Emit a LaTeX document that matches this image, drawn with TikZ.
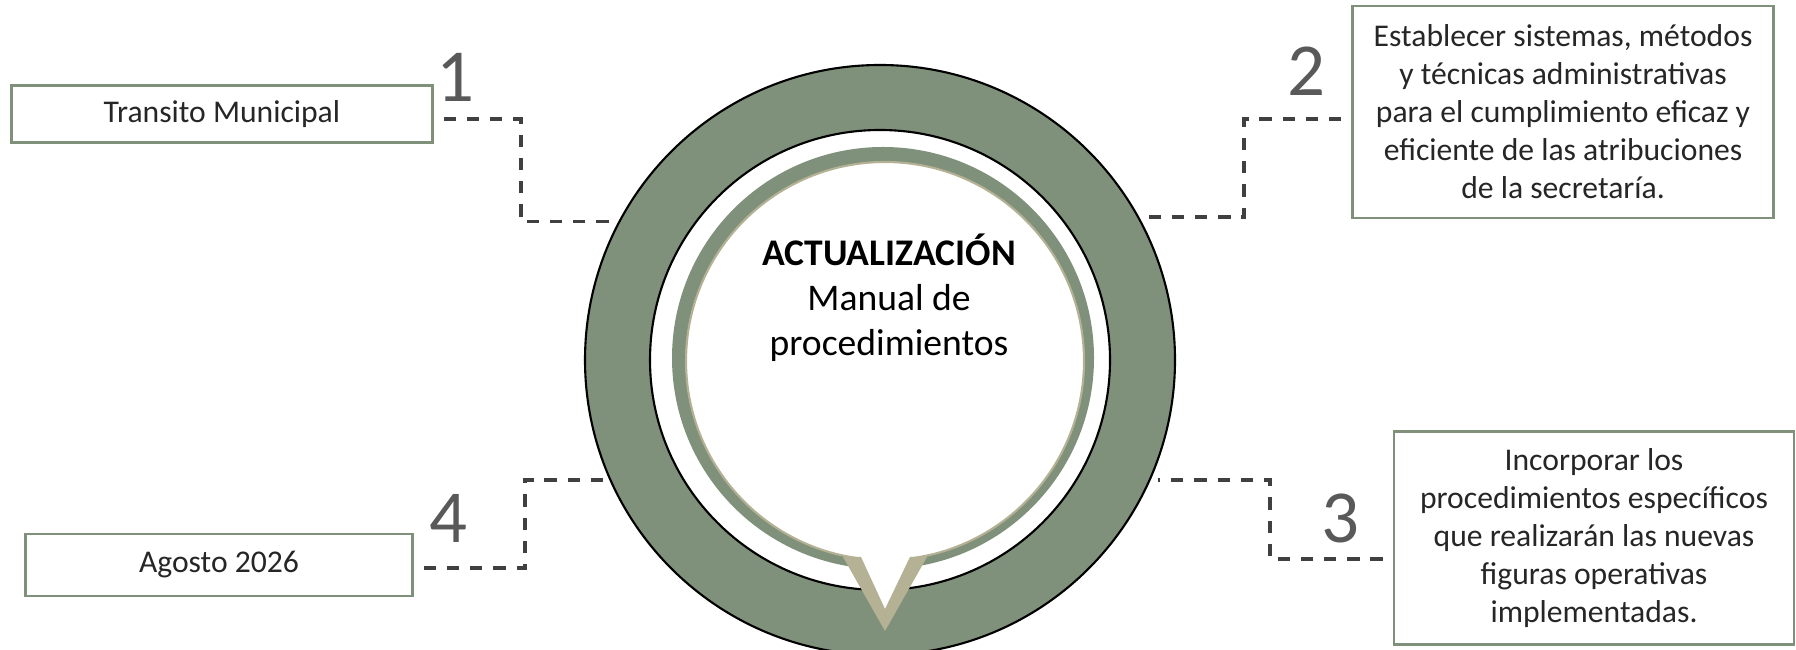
\documentclass[tikz,border=0pt]{standalone}
\usepackage{fontspec}
\setmainfont{Carlito}
\usetikzlibrary{positioning}
\definecolor{ring_green}{RGB}{127,145,122}
\definecolor{tail_tan}{RGB}{181,177,148}
\definecolor{dash_gray}{RGB}{64,64,64}
\definecolor{num_gray}{RGB}{89,89,89}
\definecolor{text_gray}{RGB}{38,38,38}

\begin{document}
\begin{tikzpicture}[semithick]
    \tikzstyle{box}=[draw=ring_green, line width=0.7pt, fill=white, rectangle, inner sep=0pt, text=text_gray, align=center, font=\fontsize{9}{10.8}\selectfont]
    \tikzstyle{num}=[text=num_gray, inner sep=0pt, font=\fontsize{21.3}{24}\selectfont]
    \tikzstyle{link}=[draw=dash_gray, line width=1.1pt, dash pattern=on 3.5pt off 3.1pt, shorten <=0.1cm, shorten >=0.08cm]
    \tikzstyle{ring}=[circle, inner sep=0pt, outer sep=0pt, fill=ring_green, draw=black, line width=0.6pt]

    \useasboundingbox (0,0) rectangle (17.96,6.50);
    \clip (0,0) rectangle (17.96,6.50);

    % center bubble
    \node[ring, minimum size=5.90cm] (ring) at (8.80,2.90) {};
    \node[circle, inner sep=0pt, minimum size=4.60cm, fill=white, draw=black, line width=0.6pt] (hole) at (ring) {};
    \node[circle, inner sep=0pt, minimum size=4.22cm, fill=ring_green] (band) at (8.83,2.92) {};
    \node[circle, inner sep=0pt, minimum size=3.98cm, fill=white, draw=tail_tan, line width=0.6pt] (core) at (8.85,2.89) {};
    \fill[white] (8.38,1.30) -- (9.32,1.30) -- (8.85,0.40) -- cycle;
    \fill[tail_tan] (8.43,0.93) -- (8.61,0.93) -- (8.85,0.41) -- (9.10,0.93) -- (9.27,0.93) -- (8.85,0.19) -- cycle;

    \node[align=center, font=\fontsize{10.7}{12.8}\selectfont] (title) at (8.89,3.52) {\textbf{ACTUALIZACIÓN}\\Manual de\\procedimientos};

    % boxes
    \node[box, minimum width=4.21cm, minimum height=0.57cm] (t1) at (2.22,5.36) {Transito Municipal};
    \node[box, minimum width=4.21cm, minimum height=2.12cm] (t2) at (15.63,5.38) {Establecer sistemas, métodos\\y técnicas administrativas\\para el cumplimiento eficaz y\\eficiente de las atribuciones\\de la secretaría.};
    \node[box, minimum width=4.00cm, minimum height=2.13cm] (t3) at (15.94,1.12) {Incorporar los\\procedimientos específicos\\que realizarán las nuevas\\figuras operativas\\implementadas.};
    \node[box, minimum width=3.87cm, minimum height=0.62cm] (t4) at (2.19,0.85) {Agosto 2026};

    \node[num] (n1) at (4.55,5.73) {1};
    \node[num] (n2) at (13.06,5.79) {2};
    \node[num] (n3) at (13.40,1.32) {3};
    \node[num] (n4) at (4.48,1.32) {4};

    \draw[link] ([yshift=-0.5mm]t1.east) -- ++(0.87,0) |- (ring.152);
    \draw[link] ([yshift=-0.7mm]t2.west) -- ++(-1.07,0) |- (ring.29);
    \draw[link] ([yshift=-2.1mm]t3.west) -- ++(-1.23,0) |- (ring.336);
    \draw[link] ([yshift=-0.3mm]t4.east) -- ++(1.11,0) |- (ring.204);
\end{tikzpicture}
\end{document}
